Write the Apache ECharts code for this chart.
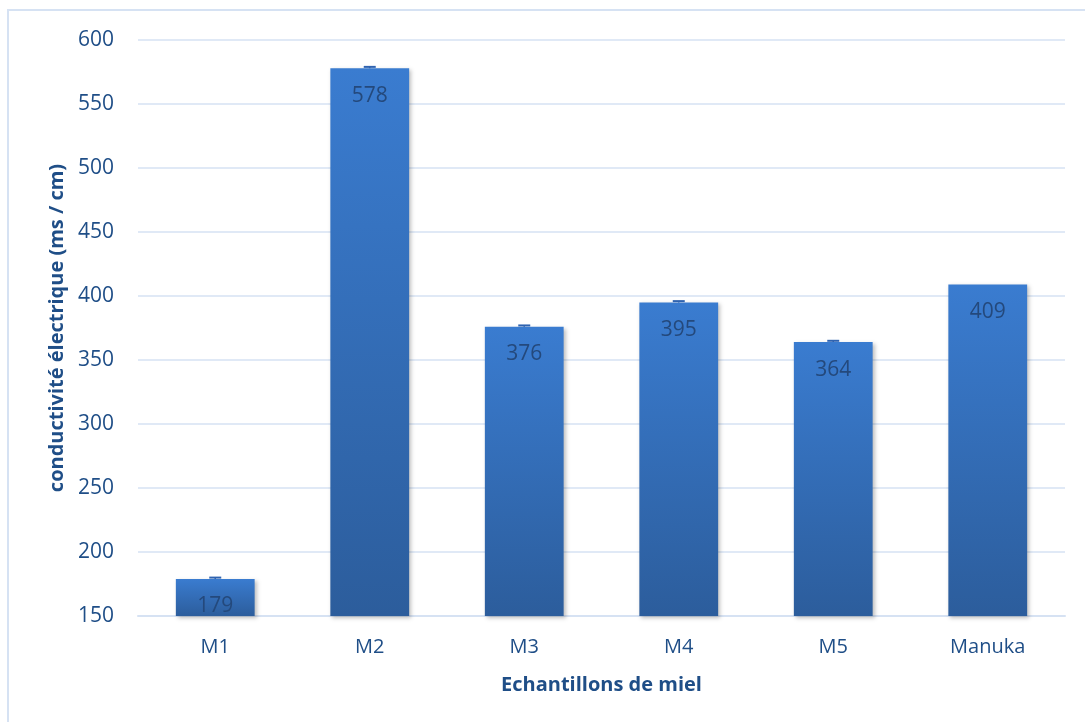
<!DOCTYPE html>
<html>
<head>
<meta charset="utf-8">
<script src="https://cdn.jsdelivr.net/npm/echarts@6/dist/echarts.min.js"></script>
<style>
  html, body { margin: 0; padding: 0; background: #fff; }
  #chart { width: 1085px; height: 722px; }
</style>
</head>
<body>
<div id="chart"></div>
<script>
// données
const categories = ['M1', 'M2', 'M3', 'M4', 'M5', 'Manuka'];
const conductivite = [179, 578, 376, 395, 364, 409];
const erreurs = [1, 1, 1, 1, 1, 0];

const fontFamily = '"Open Sans", "Noto Sans", sans-serif';
const textColor = '#1f4e87';

const chart = echarts.init(document.getElementById('chart'));

const option = {
  animation: false,
  graphic: [{
    type: 'rect',
    shape: { x: 8, y: 10, width: 1090, height: 720 },
    style: { fill: 'none', stroke: '#d6e2f3', lineWidth: 2 }
  }],
  grid: { left: 138, right: 20, top: 40, bottom: 106 },
  xAxis: {
    type: 'category',
    data: categories,
    name: 'Echantillons de miel',
    nameLocation: 'middle',
    nameGap: 59,
    nameTextStyle: { fontFamily, fontSize: 20, fontWeight: 'bold', color: textColor },
    axisLine: { lineStyle: { color: '#d6e2f3', width: 2 } },
    axisTick: { show: false },
    axisLabel: { fontFamily, fontSize: 20, color: textColor, margin: 21 }
  },
  yAxis: {
    type: 'value',
    min: 150,
    max: 600,
    interval: 50,
    name: 'conductivité électrique (ms / cm)',
    nameLocation: 'middle',
    nameGap: 70,
    nameTextStyle: { fontFamily, fontSize: 20, fontWeight: 'bold', color: textColor },
    axisLine: { show: false },
    axisTick: { show: false },
    axisLabel: { fontFamily, fontSize: 21, color: textColor, margin: 24 },
    splitLine: { lineStyle: { color: '#d6e2f3', width: 1.5 } }
  },
  series: [
    {
      type: 'bar',
      data: conductivite,
      barWidth: '51%',
      itemStyle: {
        color: new echarts.graphic.LinearGradient(0, 0, 0, 1, [
          { offset: 0, color: '#3a7cd0' },
          { offset: 1, color: '#2c5d9c' }
        ]),
        shadowColor: 'rgba(0,0,0,0.25)',
        shadowBlur: 4,
        shadowOffsetX: 2,
        shadowOffsetY: 2
      },
      label: {
        show: true,
        position: 'insideTop',
        distance: 17,
        fontFamily,
        fontSize: 21,
        color: '#24497c'
      }
    },
    {
      type: 'custom',
      z: 5,
      data: conductivite.map((v, i) => [i, v, erreurs[i]]),
      renderItem: (params, api) => {
        const err = api.value(2);
        if (!err) return null;
        const top = api.coord([api.value(0), api.value(1) + err]);
        const base = api.coord([api.value(0), api.value(1)]);
        return {
          type: 'group',
          children: [
            { type: 'line', shape: { x1: top[0], y1: top[1], x2: top[0], y2: base[1] },
              style: { stroke: '#2f63b0', lineWidth: 1.5 } },
            { type: 'line', shape: { x1: top[0] - 6, y1: top[1], x2: top[0] + 6, y2: top[1] },
              style: { stroke: '#2f63b0', lineWidth: 2 } }
          ]
        };
      }
    }
  ]
};

chart.setOption(option);
</script>
</body>
</html>
